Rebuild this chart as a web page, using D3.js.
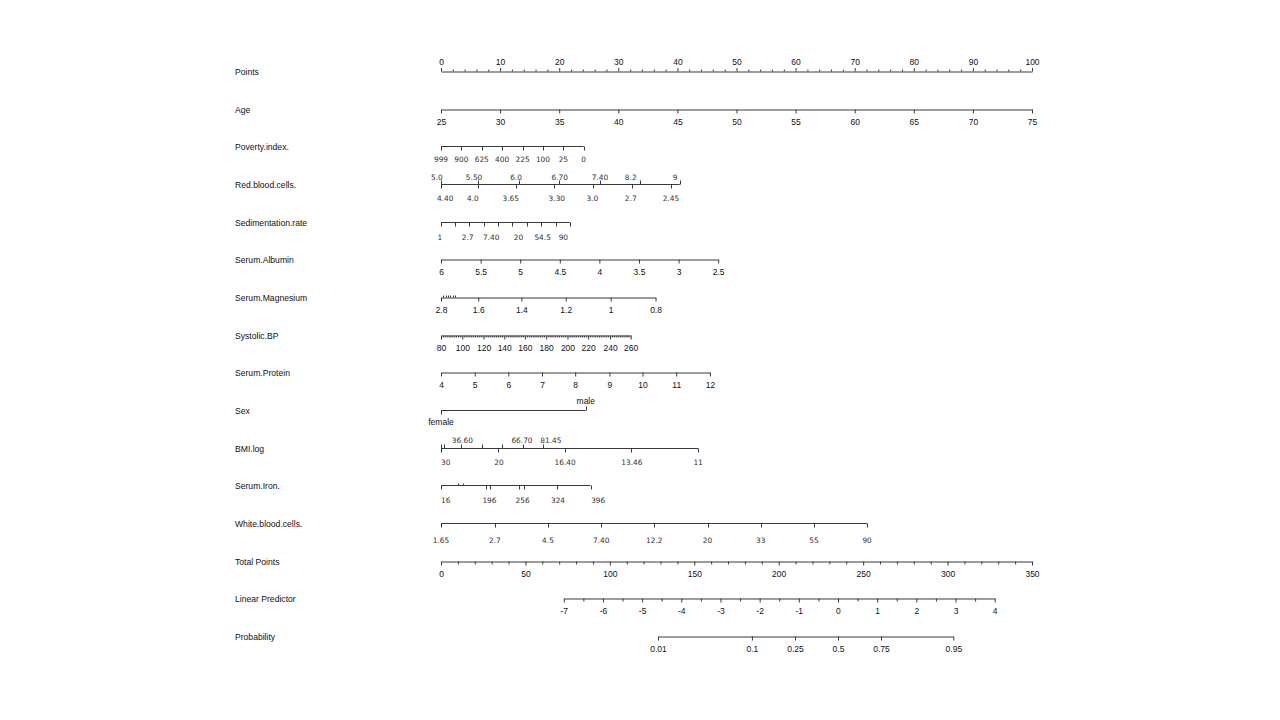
<!DOCTYPE html>
<html><head><meta charset="utf-8">
<script src="https://cdn.jsdelivr.net/npm/d3@7"></script>
<style>body{margin:0;background:#fff}</style>
</head><body><svg id="c" width="1280" height="720"></svg>
<script>
// ---------------- DATA ----------------
const rowNames = ["Points","Age","Poverty.index.","Red.blood.cells.","Sedimentation.rate","Serum.Albumin","Serum.Magnesium","Systolic.BP","Serum.Protein","Sex","BMI.log","Serum.Iron.","White.blood.cells.","Total Points","Linear Predictor","Probability"];

const pointsMajor = [0,10,20,30,40,50,60,70,80,90,100];
const ageLabels = [25,30,35,40,45,50,55,60,65,70,75];

const povertyLabels = ["999","900","625","400","225","100","25","0"];
const povertyPoints = [0,3.45,6.9,10.35,13.8,17.25,20.7,24.15];

const rbcUpperLabels = ["5.0","5.50","6.0","6.70","7.40","8.2","9"];
const rbcUpperTicks = [0,6.3,13.2,20.0,26.9,33.7,40.4];
const rbcUpperLabelPoints = [-0.7,5.6,12.7,20.1,26.9,32.1,39.6];
const rbcLowerLabels = ["4.40","4.0","3.65","3.30","3.0","2.7","2.45"];
const rbcLowerTicks = [0,6.3,12.7,19.1,25.7,32.4,39.0];
const rbcLowerLabelPoints = [0.7,5.4,11.8,19.6,25.6,32.1,38.9];

const sedTicks = [0,2.4,4.8,7.2,9.6,12.0,14.5,16.9,19.4,21.8];
const sedLabels = ["1","2.7","7.40","20","54.5","90"];
const sedLabelPoints = [-0.2,4.5,8.5,13.1,17.2,20.7];

const albuminLabels = [6,5.5,5,4.5,4,3.5,3,2.5];
const albuminPoints = [0,6.7,13.4,20.1,26.8,33.5,40.2,46.9];

const magnesiumLabels = [2.8,1.6,1.4,1.2,1,0.8];
const magnesiumPoints = [0,6.3,13.6,21.1,28.7,36.3];
const magnesiumMinorPoints = [0.4,0.8,1.2,1.6,2.0,2.4];

const sbpLabels = [80,100,120,140,160,180,200,220,240,260];
const sbpPoints = [0,3.6,7.2,10.7,14.2,17.8,21.4,24.9,28.6,32.1];

const proteinLabels = [4,5,6,7,8,9,10,11,12];
const proteinPoints = [0,5.7,11.4,17.1,22.7,28.5,34.1,39.8,45.5];

const sexLabels = ["female","male"];
const sexPoints = [0,24.5];

const bmiUpperTicks = [0,0.5,3.4,7.0,10.4,13.8,17.3];
const bmiUpperLabels = ["36.60","66.70","81.45"];
const bmiUpperLabelPoints = [3.6,13.7,18.6];
const bmiLowerTicks = [0,9.7,20.9,32.2,43.5];
const bmiLowerLabels = ["30","20","16.40","13.46","11"];
const bmiLowerLabelPoints = [0.8,9.8,21.0,32.3,43.5];

const ironTicks = [0,7.6,8.3,13.2,14.0,19.6,25.3];
const ironUpTicks = [2.9,3.7];
const ironLabels = ["16","196","256","324","396"];
const ironLabelPoints = [0.8,8.2,13.8,19.8,26.6];

const wbcLabels = ["1.65","2.7","4.5","7.40","12.2","20","33","55","90"];
const wbcPoints = [0,9.1,18.1,27.1,36.1,45.1,54.1,63.1,72.1];

const totalMajor = [0,50,100,150,200,250,300,350];
const lpMajor = [-7,-6,-5,-4,-3,-2,-1,0,1,2,3,4];
const lpInterceptTotal = 235.1;   // total points at LP = 0
const lpTotalPerUnit = 23.2;      // total points per LP unit
const probLabels = [0.01,0.1,0.25,0.5,0.75,0.95];

// ---------------- SETUP ----------------
const svg = d3.select("#c");
svg.append("rect").attr("width",1280).attr("height",720).attr("fill","#fff");
const ARIAL = "'Liberation Sans', Arial, sans-serif";
const ALT = "'DejaVu Sans', Verdana, sans-serif";
const STROKE = "#3a3a3a";
const TICKFONT = 8.5;
const ALTFONT = 7.4;

const x = d3.scaleLinear().domain([0,100]).range([441,1032]);
const xTot = d3.scaleLinear().domain([0,350]).range([441,1032]);
const yRow = d3.scaleLinear().domain([0,15]).range([71,636]);
const rowY = i => Math.round(yRow(i)) + 0.5;

// left labels
svg.append("g").selectAll("text").data(rowNames).join("text")
  .attr("x",235).attr("y",(d,i)=>rowY(i)+3)
  .attr("font-family",ARIAL).attr("font-size",8.6).attr("fill","#111")
  .text(d=>d);

function styleAxis(g){
  g.attr("font-family",ARIAL).attr("font-size",TICKFONT);
  g.select(".domain").attr("stroke",STROKE);
  g.selectAll(".tick line").attr("stroke",STROKE);
  g.selectAll(".tick text").attr("fill","#111");
}
function stdAxis(i, scale, values, fmt, orient, tsize, pad){
  const gen = (orient==="top"?d3.axisTop:d3.axisBottom)(scale)
     .tickValues(values).tickFormat(fmt).tickSize(tsize).tickSizeOuter(0).tickPadding(pad);
  const g = svg.append("g").attr("transform",`translate(0,${rowY(i)})`).call(gen);
  styleAxis(g);
  return g;
}
function minorAxis(i, scale, values, orient, tsize){
  const gen = (orient==="top"?d3.axisTop:d3.axisBottom)(scale)
     .tickValues(values).tickFormat("").tickSize(tsize).tickSizeOuter(0);
  const g = svg.append("g").attr("transform",`translate(0,${rowY(i)})`).call(gen);
  g.select(".domain").remove();
  g.selectAll(".tick line").attr("stroke",STROKE);
}
function line(i,p0,p1){
  svg.append("line").attr("x1",x(p0)).attr("x2",x(p1)).attr("y1",rowY(i)).attr("y2",rowY(i)).attr("stroke",STROKE);
}
function ticks(i,pts,dir,len){
  svg.append("g").selectAll("line").data(pts).join("line")
    .attr("x1",d=>Math.round(x(d))+0.5).attr("x2",d=>Math.round(x(d))+0.5)
    .attr("y1",rowY(i)).attr("y2",rowY(i)+dir*len).attr("stroke",STROKE);
}
function labels(i,pts,texts,dy,font,size,color){
  svg.append("g").selectAll("text").data(texts).join("text")
    .attr("x",(d,k)=>x(pts[k])).attr("y",rowY(i)+dy)
    .attr("text-anchor","middle").attr("font-family",font).attr("font-size",size).attr("fill",color)
    .text(d=>d);
}
const fmtStr = d => String(d);

// Row 0: Points
stdAxis(0, x, pointsMajor, fmtStr, "top", 3.5, 3);
minorAxis(0, x, x.ticks(40).filter(v=>v%10!==0), "top", 2);

// Row 1: Age
const ageScale = d3.scaleLinear().domain([25,75]).range([x(0),x(100)]);
stdAxis(1, ageScale, ageLabels, fmtStr, "bottom", 4, 5);

// Row 2: Poverty index
line(2, povertyPoints[0], povertyPoints[povertyPoints.length-1]);
ticks(2, povertyPoints, 1, 4);
labels(2, povertyPoints, povertyLabels, 15.5, ALT, ALTFONT, "#333");

// Row 3: Red blood cells
line(3, 0, rbcUpperTicks[rbcUpperTicks.length-1]);
ticks(3, rbcUpperTicks, -1, 4);
ticks(3, rbcLowerTicks, 1, 4);
labels(3, rbcUpperLabelPoints, rbcUpperLabels, -5, ALT, ALTFONT, "#333");
labels(3, rbcLowerLabelPoints, rbcLowerLabels, 16, ALT, ALTFONT, "#333");

// Row 4: Sedimentation rate
line(4, sedTicks[0], sedTicks[sedTicks.length-1]);
ticks(4, sedTicks, 1, 4);
labels(4, sedLabelPoints, sedLabels, 17, ALT, ALTFONT, "#333");

// Row 5: Serum Albumin
const albScale = d3.scaleLinear().domain(albuminLabels).range(albuminPoints.map(x));
stdAxis(5, albScale, albuminLabels, fmtStr, "bottom", 4, 5);

// Row 6: Serum Magnesium
const mgScale = d3.scaleLinear().domain(magnesiumLabels).range(magnesiumPoints.map(x));
stdAxis(6, mgScale, magnesiumLabels, fmtStr, "bottom", 4, 5);
ticks(6, magnesiumMinorPoints, -1, 2);

// Row 7: Systolic BP
const sbpScale = d3.scaleLinear().domain(sbpLabels).range(sbpPoints.map(x));
stdAxis(7, sbpScale, sbpLabels, fmtStr, "bottom", 4, 5);
minorAxis(7, sbpScale, d3.range(82,260,2).filter(v=>v%20!==0), "bottom", 2);

// Row 8: Serum Protein
const protScale = d3.scaleLinear().domain(proteinLabels).range(proteinPoints.map(x));
stdAxis(8, protScale, proteinLabels, fmtStr, "bottom", 4, 5);

// Row 9: Sex
line(9, sexPoints[0], sexPoints[1]);
ticks(9, [sexPoints[0]], 1, 4);
ticks(9, [sexPoints[1]], -1, 4);
labels(9, [sexPoints[0]], [sexLabels[0]], 14, ARIAL, TICKFONT, "#111");
labels(9, [sexPoints[1]], [sexLabels[1]], -7, ARIAL, TICKFONT, "#111");

// Row 10: BMI.log
line(10, 0, bmiLowerTicks[bmiLowerTicks.length-1]);
ticks(10, bmiUpperTicks, -1, 4);
ticks(10, bmiLowerTicks, 1, 4);
labels(10, bmiUpperLabelPoints, bmiUpperLabels, -6, ALT, ALTFONT, "#333");
labels(10, bmiLowerLabelPoints, bmiLowerLabels, 16.5, ALT, ALTFONT, "#333");

// Row 11: Serum Iron
line(11, ironTicks[0], ironTicks[ironTicks.length-1]);
ticks(11, ironTicks, 1, 4);
ticks(11, ironUpTicks, -1, 2);
labels(11, ironLabelPoints, ironLabels, 17, ALT, ALTFONT, "#333");

// Row 12: White blood cells
line(12, wbcPoints[0], wbcPoints[wbcPoints.length-1]);
ticks(12, wbcPoints, 1, 4);
labels(12, wbcPoints, wbcLabels, 19, ALT, ALTFONT, "#333");

// Row 13: Total points
stdAxis(13, xTot, totalMajor, fmtStr, "bottom", 4, 5);
minorAxis(13, xTot, d3.range(10,350,10).filter(v=>v%50!==0), "bottom", 3);

// Row 14: Linear predictor
const lpToTotal = lp => lpInterceptTotal + lpTotalPerUnit*lp;
const xLP = d3.scaleLinear().domain([lpMajor[0], lpMajor[lpMajor.length-1]])
  .range([xTot(lpToTotal(lpMajor[0])), xTot(lpToTotal(lpMajor[lpMajor.length-1]))]);
stdAxis(14, xLP, lpMajor, fmtStr, "bottom", 4, 5);
minorAxis(14, xLP, lpMajor.slice(0,-1).map(v=>v+0.5), "bottom", 3);

// Row 15: Probability
const logit = p => Math.log(p/(1-p));
const probScale = d3.scaleLinear().domain([logit(probLabels[0]), logit(probLabels[probLabels.length-1])])
  .range([xLP(logit(probLabels[0])), xLP(logit(probLabels[probLabels.length-1]))]);
stdAxis(15, probScale, probLabels.map(logit), (d,k)=>String(probLabels[k]), "bottom", 4, 5);
</script></body></html>
